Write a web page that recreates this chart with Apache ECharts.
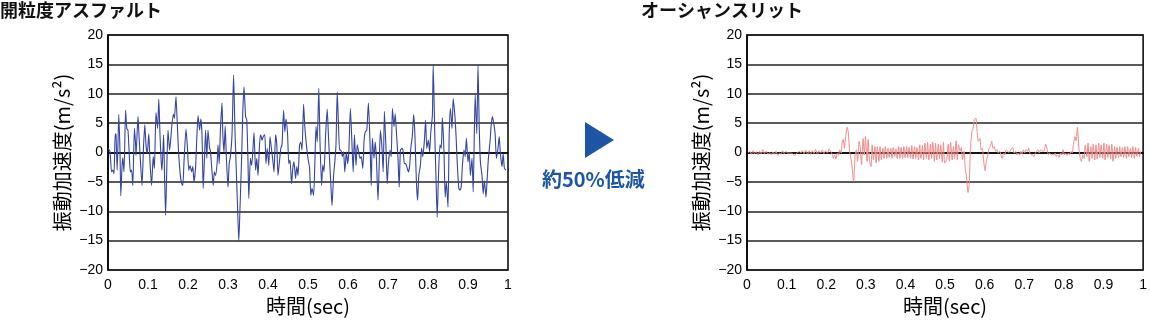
<!DOCTYPE html>
<html>
<head>
<meta charset="utf-8">
<script src="https://cdn.jsdelivr.net/npm/echarts@6/dist/echarts.min.js"></script>
<style>
html,body{margin:0;padding:0;background:#fff;}
#chart{width:1150px;height:326px;}
</style>
</head>
<body>
<div id="chart"></div>
<script>
// ---- data ----
const leftTitle = '開粒度アスファルト';
const rightTitle = 'オーシャンスリット';
const xName = '時間(sec)';
const yName = '振動加速度(m/s²)';
const middleText = '約50%低減';
const xTickLabels = ['0','0.1','0.2','0.3','0.4','0.5','0.6','0.7','0.8','0.9','1'];
const yTickLabels = ['−20','−15','−10','−5','0','5','10','15','20'];

const leftTime = [
0.001,0.005,0.009,0.012,0.015,0.018,0.020,0.023,0.027,0.030,0.032,0.035,0.037,0.040,0.044,0.047,0.050,0.054,0.056,0.059,
0.062,0.066,0.069,0.070,0.075,0.077,0.081,0.085,0.089,0.092,0.095,0.098,0.102,0.105,0.109,0.113,0.116,0.120,0.124,0.127,
0.130,0.133,0.135,0.139,0.141,0.144,0.147,0.150,0.154,0.157,0.160,0.164,0.166,0.170,0.173,0.176,0.180,0.184,0.187,0.190,
0.195,0.198,0.202,0.205,0.209,0.212,0.215,0.219,0.222,0.225,0.229,0.232,0.235,0.238,0.241,0.244,0.247,0.250,0.254,
0.256,0.260,0.263,0.266,0.269,0.273,0.275,0.278,0.281,0.285,0.287,0.290,0.293,0.296,0.300,0.303,0.306,0.310,0.314,0.317,
0.320,0.324,0.327,0.330,0.334,0.337,0.340,0.344,0.347,0.350,0.352,0.356,0.359,0.362,0.365,0.369,0.372,0.375,0.379,0.382,
0.385,0.388,0.392,0.395,0.398,0.402,0.405,0.409,0.412,0.415,0.419,0.422,0.425,0.429,0.432,0.435,0.439,0.442,0.445,0.449,
0.452,0.455,0.459,0.462,0.465,0.469,0.472,0.475,0.479,0.482,0.485,0.489,0.492,
0.496,0.500,0.504,0.507,0.510,0.514,0.517,0.520,0.523,0.527,0.530,0.534,0.537,0.540,0.544,0.548,0.551,0.555,0.558,0.560,
0.564,0.567,0.570,0.573,0.576,0.579,0.582,0.586,0.589,0.592,0.596,0.599,0.602,0.606,0.610,0.613,0.616,0.620,0.623,0.626,
0.630,0.633,0.637,0.640,0.643,0.647,0.651,0.655,0.658,0.661,0.665,0.668,0.671,0.675,0.678,0.681,0.685,0.688,0.691,0.695,
0.698,0.701,0.705,0.708,0.711,0.715,0.718,0.721,0.725,0.728,0.731,0.735,0.738,0.741,
0.744,0.747,0.751,0.754,0.757,0.761,0.764,0.767,0.771,0.774,0.777,0.781,0.784,0.787,0.791,0.794,0.797,0.801,0.804,0.807,
0.811,0.813,0.817,0.820,0.823,0.826,0.830,0.833,0.836,0.840,0.843,0.846,0.850,0.853,0.856,0.860,0.863,0.867,0.870,0.873,
0.877,0.880,0.883,0.886,0.890,0.893,0.896,0.900,0.903,0.906,0.910,0.913,0.916,0.918,0.922,0.925,0.928,0.931,0.935,0.938,
0.941,0.945,0.948,0.951,0.955,0.958,0.961,0.965,0.968,0.971,0.975,0.978,0.981,0.985,0.988,0.991,0.995
];
const leftAccel = [
0.7,0.1,-3.3,-3.0,-3.6,3.2,3.0,-3.0,6.5,0.1,-7.4,-2.4,-0.9,-3.3,7.2,4.1,3.8,-1.6,-3.3,-3.0,
-5.6,4.1,1.3,-0.5,6.1,3.5,-1.3,-5.6,1.3,4.7,1.3,-0.2,3.2,-1.6,-5.6,-0.7,-2.7,6.8,4.1,9.1,
3.0,-1.6,-3.0,3.0,-2.7,-10.7,-2.7,3.8,0.4,2.4,4.9,6.5,5.8,9.5,5.2,0.7,-3.3,-5.3,-5.6,-1.6,
4.0,1.5,-3.0,-2.2,-3.3,-2.4,-5.0,-2.4,2.4,6.3,3.8,5.7,3.0,-6.1,-1.3,3.8,-1.0,3.8,0.7,
0.4,-3.3,-5.6,-3.3,-3.9,-1.6,1.3,-1.9,3.8,8.4,3.2,0.1,4.5,-1.0,-5.9,-1.9,-0.7,3.0,13.2,4.7,
-1.6,-9.5,-15.1,-9.5,-1.0,6.9,11.2,6.1,5.5,-1.6,-7.8,-1.0,-2.2,0.1,3.4,-3.0,-1.0,-3.9,1.5,3.0,
2.1,2.7,3.0,-1.9,0.7,-2.2,2.7,0.4,-1.3,-3.3,3.0,1.3,-3.9,-1.3,0.7,1.3,7.2,3.5,5.7,3.0,
-1.9,-1.3,-5.3,-2.7,-1.6,-4.4,-2.4,-3.9,1.3,1.8,0.4,8.2,4.4,
1.3,-1.0,-2.7,-7.3,-6.1,-7.3,-2.1,4.4,1.8,10.9,1.8,-5.6,-2.1,-3.3,3.0,7.4,3.0,-2.7,-6.7,-9.0,
-3.9,-1.6,1.3,10.3,5.2,0.4,0.4,-0.7,0.1,-3.3,0.1,-1.9,0.1,7.5,1.3,-3.3,3.0,-2.2,1.3,0.4,
-1.0,-0.7,-2.7,1.8,3.5,3.8,8.4,1.8,-5.6,2.4,-1.0,1.8,-1.0,-8.1,-2.2,3.8,0.7,-3.3,7.0,0.7,
-5.3,-1.9,0.4,-0.7,7.5,4.4,6.6,3.5,-1.0,-5.9,0.4,0.7,0.1,-1.9,
-1.9,-2.4,-3.3,-2.4,0.7,3.0,6.4,3.5,-5.0,-8.1,-3.9,-2.2,0.7,-0.7,2.1,5.5,0.7,2.1,0.1,3.5,
6.4,14.9,3.0,-4.4,-11.0,-4.4,1.3,0.7,5.9,0.1,-7.6,-5.0,-9.3,3.0,7.5,4.1,9.2,6.4,3.0,-1.6,
-6.1,-6.4,-5.9,-2.2,0.4,-0.7,2.4,-1.6,0.1,-3.9,-1.0,-6.7,4.1,9.8,3.2,14.9,4.7,-1.6,-3.9,-7.0,
-4.8,-7.6,-4.4,-1.0,1.8,4.7,6.1,4.7,3.0,-1.0,0.7,2.7,-0.2,-2.4,-0.2,-2.7,-3.0
];

const rightTime = [
0.003,0.007,0.011,0.015,0.019,0.023,0.028,0.032,0.036,0.040,0.044,0.048,0.053,0.057,0.061,0.065,0.069,0.073,0.078,0.082,
0.086,0.090,0.094,0.098,0.103,0.111,0.118,0.121,0.124,0.128,0.132,0.136,0.140,0.144,0.148,0.153,0.157,0.161,0.165,0.169,
0.173,0.178,0.182,0.186,0.190,0.194,0.198,0.203,0.207,0.211,0.215,0.218,0.221,0.224,0.228,0.231,0.234,0.238,0.240,0.243,
0.246,0.249,0.253,0.256,0.259,0.263,0.266,0.269,0.273,0.276,0.279,0.283,0.286,0.289,0.293,0.296,0.299,0.303,0.306,0.309,
0.313,0.316,0.319,0.323,0.326,0.329,0.333,0.336,0.339,0.343,0.346,0.349,0.353,0.356,0.359,0.363,0.366,0.369,0.373,0.376,
0.379,0.383,0.386,0.389,0.393,0.396,0.399,0.403,0.406,0.409,0.413,0.416,0.419,0.423,0.426,0.429,0.433,0.436,0.439,0.443,
0.446,0.449,0.453,0.456,0.459,0.463,0.466,0.469,0.473,0.476,0.479,0.483,0.486,0.489,0.493,0.496,0.499,
0.504,0.508,0.511,0.514,0.518,0.521,0.524,0.528,0.531,0.534,0.538,0.541,0.544,0.548,0.551,0.554,0.558,0.561,0.564,0.568,
0.571,0.574,0.578,0.581,0.584,0.588,0.591,0.594,0.598,0.601,0.604,0.608,0.611,0.614,0.618,0.621,0.624,0.628,0.631,0.634,
0.638,0.641,0.644,0.648,0.651,0.654,0.658,0.661,0.664,0.668,0.671,0.674,0.678,0.681,0.684,0.688,0.691,0.694,0.698,0.701,
0.704,0.708,0.711,0.714,0.718,0.721,0.724,0.728,0.731,0.734,0.738,0.741,0.744,0.748,0.751,0.754,0.758,0.761,0.764,0.768,
0.771,0.774,0.778,0.781,0.784,0.788,0.791,0.794,0.798,0.801,0.804,0.808,0.811,0.814,0.818,0.821,0.824,0.828,0.831,0.834,
0.838,0.841,0.844,0.848,0.851,0.854,0.858,0.861,0.864,0.868,0.871,0.874,0.878,0.881,0.884,0.888,0.891,0.894,0.898,0.901,
0.904,0.908,0.911,0.914,0.918,0.921,0.924,0.928,0.931,0.934,0.938,0.941,0.944,0.948,0.951,0.954,0.958,0.961,0.964,0.968,
0.971,0.974,0.978,0.981,0.984,0.988,0.991,0.994
];
const rightAccel = [
-0.1,0.2,-0.3,0.3,-0.2,0.1,-0.4,0.2,-0.2,0.5,-0.2,0.2,-0.3,0,-0.4,0.1,-0.3,0.2,-0.5,-0.1,
-0.3,0.3,-0.2,0.2,-0.1,-0.1,-0.4,-0.5,-0.2,0,0.2,-0.1,0.3,-0.2,0.4,-0.3,0.3,-0.3,0.3,-0.2,
0.5,-0.3,0.3,-0.1,0.45,-0.2,0.3,-0.1,0.6,0.2,-0.3,-1.0,-0.4,-1.1,-0.1,-0.5,0.45,-0.1,1.6,2.2,
0.7,2.7,4.3,3.3,0.2,-1.25,-2.95,-4.9,-0.4,0.45,-1.5,1.9,0.7,-2.1,2.4,-0.4,2.7,-1.5,2.2,-1.25,
-2.4,1.3,-1.25,1.0,-1.8,1.0,-1.5,1.0,-1.25,0.7,-1.0,1.0,-1.0,0.7,-0.85,0.7,-1.0,0.85,-0.7,0.6,
-1.0,1.0,-1.0,0.85,-1.0,1.0,-0.85,1.0,-0.85,0.85,-1.0,1.2,-1.1,1.0,-1.0,0.85,-1.25,1.3,-1.0,1.2,
-1.25,1.6,-1.0,1.75,-1.25,1.4,-1.0,1.75,-1.5,1.6,-1.25,1.4,-1.0,1.3,-1.65,1.75,-1.8,
-1.25,1.4,-1.5,1.75,-1.25,1.0,-1.0,2.0,-1.25,1.3,0.2,0.85,-1.25,0.2,-2.7,-4.1,-6.8,-5.5,0.7,3.6,
4.15,5.6,5.85,3.6,1.9,2.4,0.45,0.7,-1.8,-3.1,-1.5,-0.4,0.7,1.0,1.9,0.7,1.0,0.2,0.45,-0.1,
0.2,-0.4,-1.0,-0.1,-0.4,0.45,0.2,0,0.2,0.7,0.85,-0.1,0.2,-0.4,-0.1,-0.4,0.2,-0.3,0.45,-0.1,
0.45,0.2,0.7,-0.1,-0.4,-0.4,-0.7,-0.1,0.2,0.45,-0.1,0.45,0.3,0.2,0.45,1.4,0.45,-0.4,-0.1,-0.4,
-0.3,-0.5,-0.1,-0.7,-0.4,-0.85,-0.1,-0.4,0.45,-0.4,-0.1,-0.5,-0.1,-0.4,0.2,-0.1,1.3,2.7,2.0,4.3,
0.7,-0.85,-1.5,-0.4,-1.0,1.3,-0.7,1.6,-1.5,1.0,-1.0,1.4,-1.25,1.3,-1.1,1.6,-0.85,1.3,-1.0,1.6,
-1.25,1.4,-0.85,1.2,-1.1,1.4,-1.5,1.0,-1.0,0.85,-0.85,1.0,-0.7,0.85,-0.85,1.0,-1.0,1.0,-0.7,0.7,
-0.85,1.0,-1.0,0.85,-0.7,0.7,-0.7,0.2
];

// ---- chart ----
const zip = (a, b) => a.map((t, i) => [t, b[i]]);
const numFont = 'Liberation Sans';
const jpFont = 'Noto Sans CJK JP';

function xAxis(gi) {
  return {
    type: 'value', gridIndex: gi, min: 0, max: 1, interval: 0.1,
    name: xName, nameLocation: 'middle', nameGap: 25,
    nameTextStyle: { fontFamily: jpFont, fontSize: 20, color: '#000' },
    axisLine: { show: true, lineStyle: { color: '#000', width: 1.5 } },
    axisTick: { show: false },
    splitLine: { show: false },
    axisLabel: {
      margin: 8, fontFamily: numFont, fontSize: 14, color: '#000',
      formatter: v => xTickLabels[Math.round(v * 10)]
    }
  };
}
function yAxis(gi) {
  return {
    type: 'value', gridIndex: gi, min: -20, max: 20, interval: 5,
    name: yName, nameLocation: 'middle', nameGap: 36, nameRotate: 90,
    nameTextStyle: { fontFamily: jpFont, fontSize: 20, color: '#000' },
    axisLine: { show: true, onZero: false, lineStyle: { color: '#000', width: 1.5 } },
    axisTick: { show: false },
    splitLine: { show: true, lineStyle: { color: '#222', width: 1.5 } },
    axisLabel: {
      margin: 5, fontFamily: numFont, fontSize: 14, color: '#000',
      formatter: v => yTickLabels[Math.round((v + 20) / 5)]
    }
  };
}

const chart = echarts.init(document.getElementById('chart'), null, { renderer: 'canvas' });
chart.setOption({
  backgroundColor: '#fff',
  animation: false,
  title: [
    { text: leftTitle, left: 0, top: 1, padding: 0, textStyle: { fontFamily: jpFont, fontSize: 18, fontWeight: 'bold', color: '#111' } },
    { text: rightTitle, left: 641, top: 1, padding: 0, textStyle: { fontFamily: jpFont, fontSize: 18, fontWeight: 'bold', color: '#111' } }
  ],
  grid: [
    { left: 108, top: 35, width: 400, height: 235, show: true, borderColor: '#000', borderWidth: 1.5, backgroundColor: 'transparent' },
    { left: 747, top: 35, width: 400, height: 235, show: true, borderColor: '#000', borderWidth: 1.5, backgroundColor: 'transparent' }
  ],
  xAxis: [xAxis(0), xAxis(1)],
  yAxis: [yAxis(0), yAxis(1)],
  series: [
    {
      type: 'line', xAxisIndex: 0, yAxisIndex: 0, data: zip(leftTime, leftAccel),
      showSymbol: false, symbol: 'none', smooth: 0.2,
      lineStyle: { color: '#3345a0', width: 1.1 }, z: 3
    },
    {
      type: 'line', xAxisIndex: 1, yAxisIndex: 1, data: zip(rightTime, rightAccel),
      showSymbol: false, symbol: 'none', smooth: 0.2,
      lineStyle: { color: '#f08a8a', width: 1 }, z: 3
    }
  ],
  graphic: [
    { type: 'polygon', shape: { points: [[585, 122], [585, 158], [614, 140]] }, style: { fill: '#1c55a5' } },
    { type: 'text', left: 542, top: 169, style: { text: middleText, fontFamily: jpFont, fontSize: 20, fontWeight: 'bold', fill: '#1c55a5' } }
  ]
});
</script>
</body>
</html>
